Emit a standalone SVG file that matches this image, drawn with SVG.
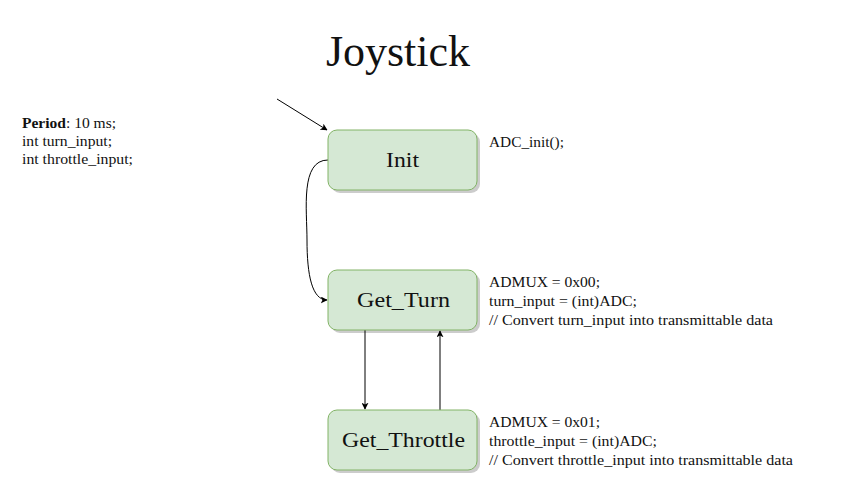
<svg xmlns="http://www.w3.org/2000/svg" width="848" height="494" viewBox="0 0 848 494">
<style>
.node{fill:#d5e8d4;stroke:#82b366;stroke-width:1}
.shadow{fill:#000;opacity:0.2}
.lbl{font-family:"Liberation Serif",serif;font-size:22px;fill:#111;text-anchor:middle}
.note{font-family:"Liberation Serif",serif;font-size:14.5px;fill:#111}
.edge{fill:none;stroke:#000;stroke-width:1;marker-end:url(#arr)}
</style>
<defs>
<marker id="arr" viewBox="0 0 10 10" refX="9" refY="5" markerWidth="7" markerHeight="7" orient="auto" markerUnits="userSpaceOnUse">
<path d="M0,0 L10,5 L0,10 L2.5,5 Z" fill="#000"/>
</marker>
</defs>
<rect width="848" height="494" fill="#fff"/>
<text x="398" y="66" font-family="Liberation Serif,serif" font-size="44" text-anchor="middle" fill="#111">Joystick</text>
<text class="note" x="22" y="128" textLength="94" lengthAdjust="spacingAndGlyphs"><tspan font-weight="bold">Period</tspan>: 10 ms;</text>
<text class="note" x="22" y="146" textLength="90" lengthAdjust="spacingAndGlyphs">int turn_input;</text>
<text class="note" x="22" y="164" textLength="111" lengthAdjust="spacingAndGlyphs">int throttle_input;</text>
<g id="connectors">
<path class="edge" d="M277,99 L327,130"/>
<path class="edge" d="M328,160 C300,160 307,210 307,240 C307,275 312,300 327,300"/>
<path class="edge" d="M365,330 L365,409"/>
<path class="edge" d="M440,410 L440,331"/>
</g>
<g id="init">
<rect class="shadow" x="331" y="133" width="149" height="60" rx="9"/>
<rect class="node" x="328" y="130" width="149" height="60" rx="9"/>
<text class="lbl" x="402.5" y="167" textLength="33" lengthAdjust="spacingAndGlyphs">Init</text>
</g>
<g id="get_turn">
<rect class="shadow" x="331" y="273" width="149" height="60" rx="9"/>
<rect class="node" x="328" y="270" width="149" height="60" rx="9"/>
<text class="lbl" x="403.5" y="307" textLength="93" lengthAdjust="spacingAndGlyphs">Get_Turn</text>
</g>
<g id="get_throttle">
<rect class="shadow" x="331" y="413" width="149" height="60" rx="9"/>
<rect class="node" x="328" y="410" width="149" height="60" rx="9"/>
<text class="lbl" x="403.5" y="447" textLength="123" lengthAdjust="spacingAndGlyphs">Get_Throttle</text>
</g>
<text class="note" x="489" y="147" textLength="75" lengthAdjust="spacingAndGlyphs">ADC_init();</text>
<text class="note" x="489" y="287" textLength="111" lengthAdjust="spacingAndGlyphs">ADMUX = 0x00;</text>
<text class="note" x="489" y="306" textLength="148" lengthAdjust="spacingAndGlyphs">turn_input = (int)ADC;</text>
<text class="note" x="489" y="325" textLength="284" lengthAdjust="spacingAndGlyphs">// Convert turn_input into transmittable data</text>
<text class="note" x="489" y="427" textLength="111" lengthAdjust="spacingAndGlyphs">ADMUX = 0x01;</text>
<text class="note" x="489" y="446" textLength="168" lengthAdjust="spacingAndGlyphs">throttle_input = (int)ADC;</text>
<text class="note" x="489" y="465" textLength="304" lengthAdjust="spacingAndGlyphs">// Convert throttle_input into transmittable data</text>
</svg>
